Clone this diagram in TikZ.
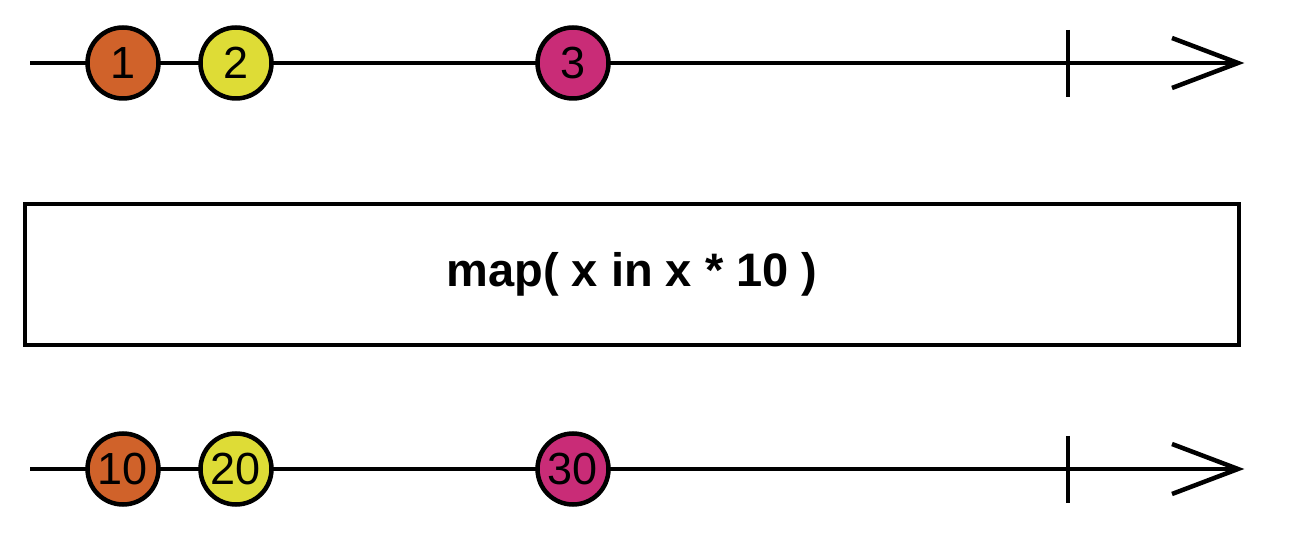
\documentclass[tikz,border=0pt]{standalone}
\usepackage{fontspec}
\setmainfont{Liberation Sans}
\begin{document}
\begin{tikzpicture}[x=1pt,y=-1pt,
  marble/.style={circle,draw=black,line width=4.5pt,minimum size=71pt,inner sep=0pt,font=\fontsize{45}{45}\selectfont},
  tl/.style={line width=4.5pt},
  opbox/.style={draw=black,line width=4.5pt,minimum width=1214pt,minimum height=141pt,inner sep=0pt,font=\bfseries\fontsize{47}{47}\selectfont}]
\definecolor{morange}{HTML}{D0622A}
\definecolor{myellow}{HTML}{DEDC36}
\definecolor{mpink}{HTML}{C92C77}
\useasboundingbox (0,0) rectangle (1302,534);
% top line
\coordinate (ts) at (30,63);
\coordinate (te) at (1238,63);
\coordinate (tt1) at (1068,30);
\coordinate (tt2) at (1068,97);
\coordinate (ta1) at (1172,38);
\coordinate (ta2) at (1172,88);
\draw[tl] (ts) -- (te);
\draw[tl] (tt1) -- (tt2);
\draw[tl,line join=miter] (ta1) -- (te) -- (ta2);
\node[marble,fill=morange] (a1) at (123,63) {1};
\node[marble,fill=myellow] (a2) at (236,63) {2};
\node[marble,fill=mpink] (a3) at (573,63) {3};
% box
\node[opbox] (op) at (632,274.5) {map( x in x * 10 )};
% bottom line
\coordinate (bs) at (30,469);
\coordinate (be) at (1238,469);
\coordinate (bt1) at (1068,436);
\coordinate (bt2) at (1068,503);
\coordinate (ba1) at (1172,444);
\coordinate (ba2) at (1172,494);
\draw[tl] (bs) -- (be);
\draw[tl] (bt1) -- (bt2);
\draw[tl,line join=miter] (ba1) -- (be) -- (ba2);
\node[marble,fill=morange] (b1) at (123,469) {10};
\node[marble,fill=myellow] (b2) at (236,469) {20};
\node[marble,fill=mpink] (b3) at (573,469) {30};
\end{tikzpicture}
\end{document}
